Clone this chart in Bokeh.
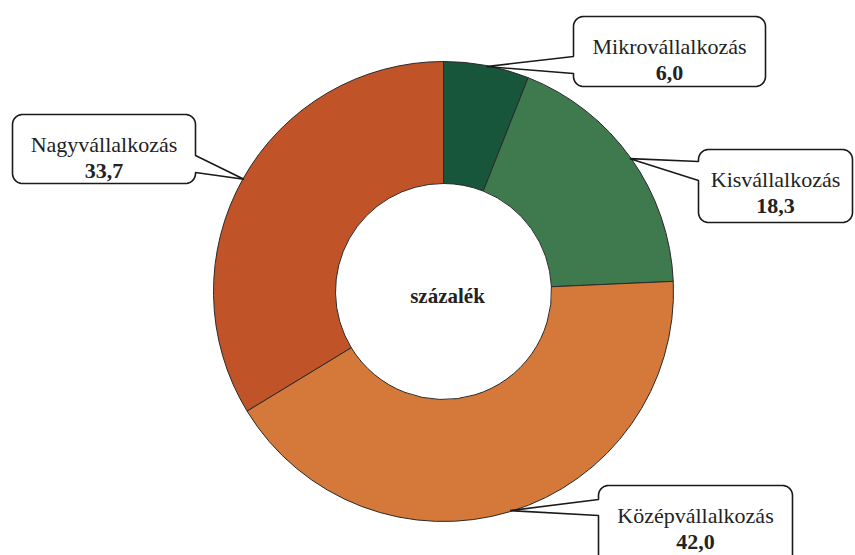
import numpy as np
from bokeh.plotting import figure
from bokeh.models import Range1d, ColumnDataSource
from bokeh.core.properties import value
from bokeh.embed import file_html
from bokeh.resources import INLINE

# ---- data ----
categories = ["Mikrovállalkozás", "Kisvállalkozás", "Középvállalkozás", "Nagyvállalkozás"]
shares = [6.0, 18.3, 42.0, 33.7]
colors = ["#17563a", "#3e7a4e", "#d4793a", "#c05428"]
center_label = "százalék"

# ---- layout (screen pixel coordinates, y downward) ----
W, H = 855, 555
CX, CY = 443, 291
R_OUT, R_IN = 230, 108
FONT = "Liberation Serif"

def sy(y):
    return H - y

p = figure(width=W, height=H, output_backend="svg", toolbar_location=None,
           x_range=Range1d(0, W), y_range=Range1d(0, H),
           min_border=0)
p.axis.visible = False
p.grid.visible = False
p.outline_line_color = None
p.background_fill_color = "white"
p.border_fill_color = "white"

# ---- donut ----
tot = float(sum(shares))
cum = np.concatenate([[0.0], np.cumsum(shares)]) / tot
starts = np.pi / 2 - 2 * np.pi * cum[:-1]
ends = np.pi / 2 - 2 * np.pi * cum[1:]
src = ColumnDataSource(dict(start=starts, end=ends, color=colors, cat=categories))
p.annular_wedge(x=CX, y=sy(CY), inner_radius=R_IN, outer_radius=R_OUT,
                start_angle="start", end_angle="end", direction="clock",
                fill_color="color", line_color="#2a2a2a", line_width=1, source=src)

# ---- callouts ----
# box: x0, y0, x1, y1 (screen), pointer side, pointer base (b0, b1)
boxes = [
    (573, 16, 765, 86, "left", 56, 73),
    (698, 149, 852, 222, "left", 161, 180),
    (598, 485, 792, 570, "left", 499, 515),
    (12, 114, 195, 183, "right", 155, 172),
]

def callout(x0, y0, x1, y1, side, b0, b1, tip, r=10):
    pts = []
    def arc(cx, cy, a0, a1):
        for t in np.linspace(a0, a1, 10):
            pts.append((cx + r * np.cos(t), cy + r * np.sin(t)))
    arc(x0 + r, y0 + r, np.pi, 1.5 * np.pi)
    arc(x1 - r, y0 + r, 1.5 * np.pi, 2 * np.pi)
    if side == "right":
        pts.extend([(x1, b0), tip, (x1, b1)])
    arc(x1 - r, y1 - r, 0, 0.5 * np.pi)
    arc(x0 + r, y1 - r, 0.5 * np.pi, np.pi)
    if side == "left":
        pts.extend([(x0, b1), tip, (x0, b0)])
    xs = [q[0] for q in pts]
    ys = [sy(q[1]) for q in pts]
    return xs, ys

mids = (cum[:-1] + cum[1:]) / 2 * 2 * np.pi
for i, (x0, y0, x1, y1, side, b0, b1) in enumerate(boxes):
    tip = (CX + (R_OUT - 1) * np.sin(mids[i]), CY - (R_OUT - 1) * np.cos(mids[i]))
    xs, ys = callout(x0, y0, x1, y1, side, b0, b1, tip)
    p.patch(xs, ys, fill_color="white", line_color="#1a1a1a", line_width=1.6)
    cx_t = (x0 + x1) / 2
    p.text(x=[cx_t], y=[sy(y0 + 30)], text=[categories[i]],
           text_font=value(FONT), text_font_size="22px", text_color="#222222",
           text_align="center", text_baseline="alphabetic")
    p.text(x=[cx_t], y=[sy(y0 + 56)], text=[f"{shares[i]:.1f}".replace(".", ",")],
           text_font=value(FONT), text_font_size="22px", text_font_style="bold",
           text_color="#222222", text_align="center", text_baseline="alphabetic")

p.text(x=[447], y=[sy(295)], text=[center_label], text_font=value(FONT),
       text_font_size="21px", text_font_style="bold", text_color="#222222",
       text_align="center", text_baseline="alphabetic")

open("out.html", "w").write(file_html(p, INLINE))
